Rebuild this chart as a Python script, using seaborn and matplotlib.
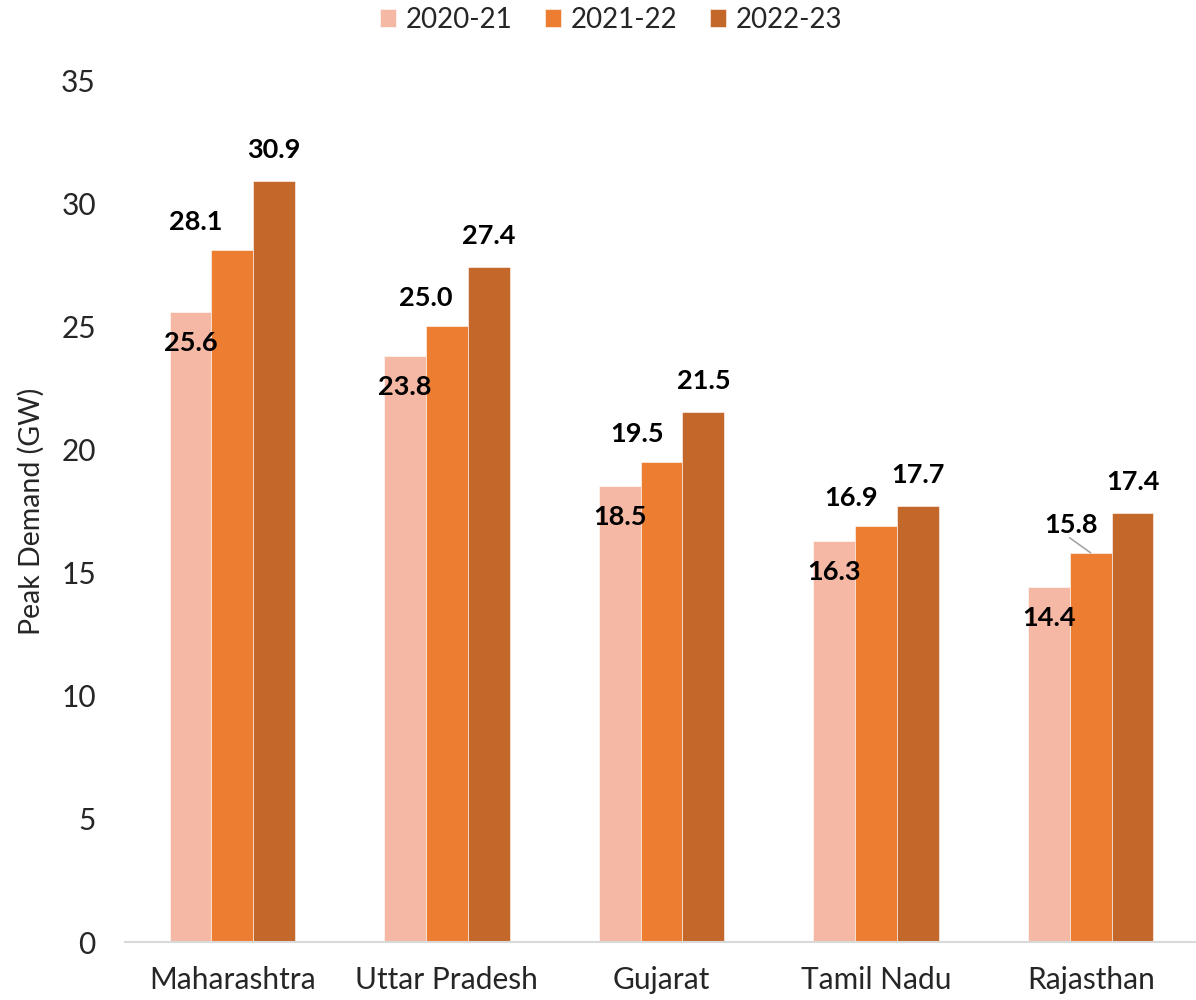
import matplotlib
matplotlib.use("Agg")
import matplotlib.pyplot as plt
import seaborn as sns
import pandas as pd

states = ["Maharashtra", "Uttar Pradesh", "Gujarat", "Tamil Nadu", "Rajasthan"]
years = ["2020-21", "2021-22", "2022-23"]
peak_2020_21 = [25.6, 23.8, 18.5, 16.3, 14.4]
peak_2021_22 = [28.1, 25.0, 19.5, 16.9, 15.8]
peak_2022_23 = [30.9, 27.4, 21.5, 17.7, 17.4]
colors = ["#F4B8A5", "#ED7D31", "#C4672A"]

df = pd.DataFrame({
    "State": states * 3,
    "Year": [y for y in years for _ in states],
    "Peak": peak_2020_21 + peak_2021_22 + peak_2022_23,
})

sns.set_theme(style="white")
plt.rcParams["font.family"] = ["Lato", "DejaVu Sans"]

fig = plt.figure(figsize=(11.96, 10), dpi=100)
ax = fig.add_axes([125 / 1196, 0.058, (1198 - 125) / 1196, 0.862])

sns.barplot(data=df, x="State", y="Peak", hue="Year", palette=colors,
            width=0.585, saturation=1, ax=ax, edgecolor="white", linewidth=0.4)

ax.set_ylim(0, 35)
ax.set_yticks(range(0, 36, 5))
ax.set_xlim(-0.5, 4.5)
ax.set_xlabel("")
ax.set_ylabel("Peak Demand (GW)", fontsize=20.5, labelpad=12)
ax.tick_params(axis="y", labelsize=21.5, pad=21, length=0)
ax.tick_params(axis="x", labelsize=21.5, pad=17, length=0)
for side in ["top", "right", "left"]:
    ax.spines[side].set_visible(False)
ax.spines["bottom"].set_color("#D9D9D9")
ax.spines["bottom"].set_linewidth(1.5)

# data labels: first series inside the bar top, second up-left, third above
offsets_mid = [-37, -21, -24, -25, -20]
for i, cont in enumerate(ax.containers):
    for j, bar in enumerate(cont):
        h = bar.get_height()
        xc = bar.get_x() + bar.get_width() / 2
        if i == 0:
            off = (0, -31)
        elif i == 1:
            off = (offsets_mid[j], 28)
        else:
            off = (0, 31)
        ax.annotate(f"{h:.1f}", xy=(xc, h), xytext=off, textcoords="offset pixels",
                    ha="center", va="center", fontsize=19.5, fontweight="bold",
                    color="black")
        if i == 1 and j == 4:
            ax.annotate("", xy=(xc, h), xytext=(-21, 15), textcoords="offset pixels",
                        arrowprops=dict(arrowstyle="-", color="#A6A6A6", lw=1.2,
                                        shrinkA=0, shrinkB=0))

handles, labels = ax.get_legend_handles_labels()
ax.legend_.remove()
fig.legend(handles, labels, loc="upper center", bbox_to_anchor=(0.511, 1.018),
           ncol=3, frameon=False, fontsize=20, handlelength=0.6, handleheight=0.6,
           handletextpad=0.35, columnspacing=1.15)

fig.savefig("out.png", dpi=100)
